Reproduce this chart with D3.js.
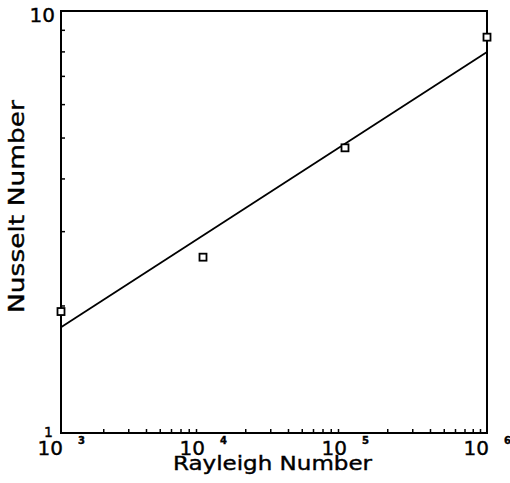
<!DOCTYPE html>
<html>
<head>
<meta charset="utf-8">
<script src="https://cdn.jsdelivr.net/npm/d3@7"></script>
<style>
  body { margin: 0; background: #fff; }
  text { font-family: "DejaVu Sans", sans-serif; fill: #000; stroke: #000; stroke-width: 0.4; }
</style>
</head>
<body>
<div id="chart"></div>
<script>
// measured points
const rayleigh = [1e3, 1e4, 1e5, 1e6];
const nusselt = [1.94, 2.61, 4.74, 8.67];

// correlation line (straight in log-log)
const fitRa = [1e3, 1e6];
const fitNu = [1.78, 8.0];

const xDecades = [3, 4, 5, 6];

const W = 510, H = 483;
const margin = { top: 11, right: 23, bottom: 50, left: 61 };

const svg = d3.select("#chart").append("svg")
  .attr("width", W)
  .attr("height", H);

const x = d3.scaleLog().domain([1e3, 1e6]).range([margin.left, W - margin.right]);
const y = d3.scaleLog().domain([1, 10]).range([H - margin.bottom, margin.top]);

const x0 = x.range()[0], x1 = x.range()[1];
const y0 = y.range()[0], y1 = y.range()[1];

// minor ticks, inward, on left and bottom
const minorX = [];
for (let d = 3; d < 6; d++) for (let k = 2; k <= 9; k++) minorX.push(k * Math.pow(10, d));
const minorY = [];
for (let k = 2; k <= 9; k++) minorY.push(k);

svg.append("g").selectAll("line").data(minorX).enter().append("line")
  .attr("x1", d => x(d)).attr("x2", d => x(d))
  .attr("y1", y0).attr("y2", y0 - 4)
  .attr("stroke", "#000").attr("stroke-width", 1.5);

svg.append("g").selectAll("line").data(minorY).enter().append("line")
  .attr("x1", x0).attr("x2", x0 + 4)
  .attr("y1", d => y(d)).attr("y2", d => y(d))
  .attr("stroke", "#000").attr("stroke-width", 1.5);

// frame
svg.append("rect")
  .attr("x", x0).attr("y", y1)
  .attr("width", x1 - x0).attr("height", y0 - y1)
  .attr("fill", "none").attr("stroke", "#000").attr("stroke-width", 2);

// fit line
const line = d3.line().x(d => x(d[0])).y(d => y(d[1]));
svg.append("path")
  .datum(fitRa.map((r, i) => [r, fitNu[i]]))
  .attr("d", line)
  .attr("fill", "none").attr("stroke", "#000").attr("stroke-width", 1.8);

// square markers
const s = 7;
svg.append("g").selectAll("rect").data(rayleigh.map((r, i) => [r, nusselt[i]]))
  .enter().append("rect")
  .attr("x", d => x(d[0]) - s / 2).attr("y", d => y(d[1]) - s / 2)
  .attr("width", s).attr("height", s)
  .attr("fill", "#fff").attr("stroke", "#000").attr("stroke-width", 1.8);

// x tick labels 10^n
const xl = svg.append("g");
xDecades.forEach(e => {
  const px = x(Math.pow(10, e));
  xl.append("text")
    .attr("x", px + 2).attr("y", y0 + 22)
    .attr("text-anchor", "end")
    .style("font-size", "20px")
    .text("10");
  xl.append("text")
    .attr("x", px + 17).attr("y", y0 + 11)
    .style("font-size", "10px")
    .style("font-weight", "bold")
    .text(e);
});

// y tick labels
svg.append("text")
  .attr("x", x0 - 6).attr("y", y(10) + 11)
  .attr("text-anchor", "end")
  .style("font-size", "20px")
  .text("10");
svg.append("text")
  .attr("x", x0 - 8).attr("y", y(1) + 4)
  .attr("text-anchor", "end")
  .style("font-size", "14px")
  .text("1");

// axis titles
svg.append("text")
  .attr("x", 173).attr("y", 470)
  .attr("textLength", 199)
  .attr("lengthAdjust", "spacingAndGlyphs")
  .style("font-size", "20px")
  .text("Rayleigh  Number");

svg.append("text")
  .attr("transform", "translate(24,313) rotate(-90)")
  .attr("textLength", 213)
  .attr("lengthAdjust", "spacingAndGlyphs")
  .style("font-size", "22px")
  .text("Nusselt  Number");
</script>
</body>
</html>
